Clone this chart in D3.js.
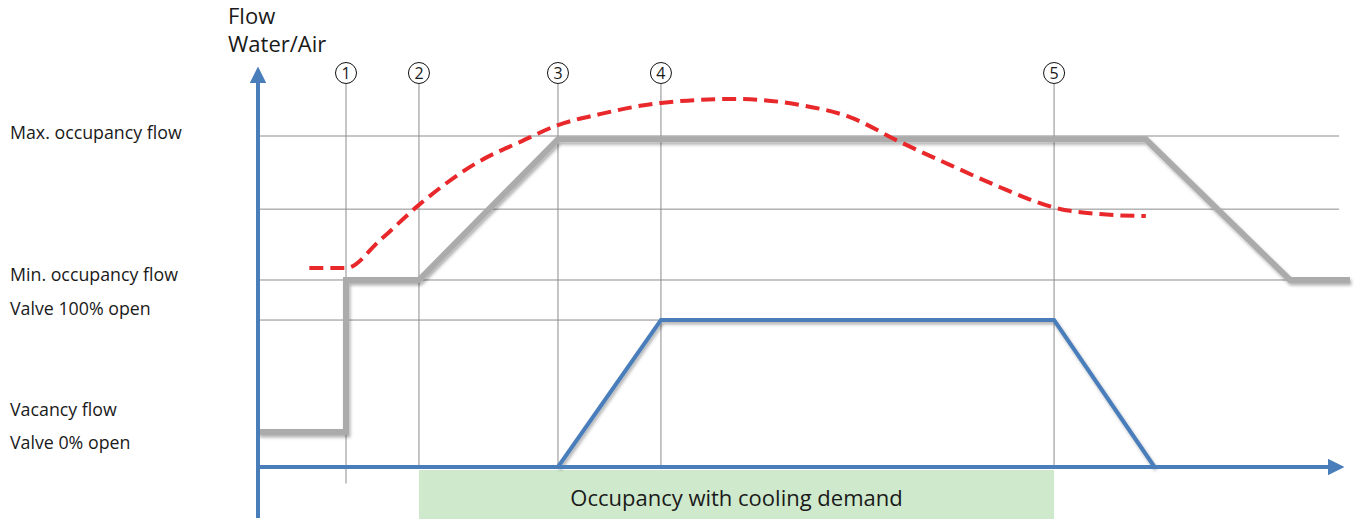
<!DOCTYPE html>
<html lang="en">
<head>
<meta charset="utf-8">
<title>Flow sequence</title>
<script src="https://d3js.org/d3.v7.min.js"></script>
<style>
body { margin: 0; background: #fff; }
text { font-family: "Open Sans", "Noto Sans", sans-serif; fill: #1a1a1a; }
</style>
</head>
<body>
<div id="chart"></div>
<script>
const width = 1357;
const height = 519;

// time axis 0..100, flow axis 0..100 (0 = axis, 100 = max occupancy)
const events = [
  { id: "1", t: 8.06, low: -5 },
  { id: "2", t: 14.74, low: 0 },
  { id: "3", t: 27.47, low: 0 },
  { id: "4", t: 36.9, low: 0 },
  { id: "5", t: 72.9, low: 0 }
];
const levels = [
  { v: 100, end: 99 },
  { v: 77.9, end: 99 },
  { v: 56.5, end: 99 },
  { v: 44.4, end: 72.9 }
];
const levelLabels = [
  { text: "Max. occupancy flow", v: 101 },
  { text: "Min. occupancy flow", v: 58 },
  { text: "Valve 100% open", v: 47.7 },
  { text: "Vacancy flow", v: 17.2 },
  { text: "Valve 0% open", v: 7.2 }
];
const airFlow = [
  [0, 10.6], [8.06, 10.6], [8.06, 56.5], [14.74, 56.5],
  [27.47, 99], [81.3, 99], [94.5, 56.5], [100, 56.5]
];
const valve = [
  [27.47, 0], [36.9, 44.4], [72.9, 44.4], [82.1, 0]
];
const roomTemp = [
  [4.7, 60.1], [8.06, 60.1], [11.2, 68.6], [14.74, 79.2], [20.3, 92.4],
  [24.0, 98.2], [27.47, 103.3], [31.3, 106.6], [36.9, 110], [43.7, 111.2],
  [49.6, 109.4], [54.2, 105.7], [58.8, 98.2], [63.4, 91.2], [67.9, 84.6],
  [70.7, 80.8], [72.9, 78.4], [77.1, 76.4], [81.3, 75.8]
];
const demandBand = { from: 14.74, to: 72.9, label: "Occupancy with cooling demand" };

const x = d3.scaleLinear().domain([0, 100]).range([258, 1350]);
const y = d3.scaleLinear().domain([0, 100]).range([467, 136]);

const svg = d3.select("#chart").append("svg")
  .attr("width", width)
  .attr("height", height);

const defs = svg.append("defs");
defs.append("filter").attr("id", "shadow")
  .attr("x", "-10%").attr("y", "-10%").attr("width", "120%").attr("height", "130%")
  .append("feDropShadow")
  .attr("dx", 1.5).attr("dy", 2.5).attr("stdDeviation", 1.5)
  .attr("flood-color", "#000").attr("flood-opacity", 0.3);

const arrow = defs.append("marker").attr("id", "arrow")
  .attr("viewBox", "0 0 10 10").attr("refX", 2).attr("refY", 5)
  .attr("markerWidth", 4.2).attr("markerHeight", 4.2)
  .attr("markerUnits", "strokeWidth")
  .attr("orient", "auto");
arrow.append("path").attr("d", "M0,0 L10,5 L0,10 Z").attr("fill", "#4a7ebb");

// green band
svg.append("rect")
  .attr("x", x(demandBand.from))
  .attr("y", 470)
  .attr("width", x(demandBand.to) - x(demandBand.from))
  .attr("height", height - 470)
  .attr("fill", "#cfe9cc");
svg.append("text")
  .attr("x", (x(demandBand.from) + x(demandBand.to)) / 2)
  .attr("y", 506)
  .attr("text-anchor", "middle")
  .style("font-size", "22px")
  .text(demandBand.label);

// horizontal level lines
svg.selectAll(".level").data(levels).enter().append("line")
  .attr("x1", x(0)).attr("x2", d => x(d.end))
  .attr("y1", d => y(d.v)).attr("y2", d => y(d.v))
  .attr("stroke", "#8c8c8c").attr("stroke-width", 1);

// event lines with circled numbers
const ev = svg.selectAll(".event").data(events).enter().append("g");
ev.append("line")
  .attr("x1", d => x(d.t)).attr("x2", d => x(d.t))
  .attr("y1", 84).attr("y2", d => y(d.low))
  .attr("stroke", "#8c8c8c").attr("stroke-width", 1);
ev.append("circle")
  .attr("cx", d => x(d.t)).attr("cy", 73).attr("r", 10.5)
  .attr("fill", "#fff").attr("stroke", "#111").attr("stroke-width", 1);
ev.append("text")
  .attr("x", d => x(d.t)).attr("y", 79)
  .attr("text-anchor", "middle")
  .style("font-size", "16px")
  .text(d => d.id);

// left labels
svg.selectAll(".lbl").data(levelLabels).enter().append("text")
  .attr("x", 10).attr("y", d => y(d.v) + 6)
  .style("font-size", "17.8px")
  .text(d => d.text);

svg.append("text").attr("x", 228).attr("y", 24).style("font-size", "22px").text("Flow");
svg.append("text").attr("x", 228).attr("y", 52).style("font-size", "22px").text("Water/Air");

const line = d3.line().x(d => x(d[0])).y(d => y(d[1]));

// air flow (gray)
svg.append("path")
  .attr("d", line(airFlow))
  .attr("fill", "none")
  .attr("stroke", "#ababab")
  .attr("stroke-width", 6)
  .attr("stroke-linejoin", "miter")
  .attr("filter", "url(#shadow)");

// valve (blue)
svg.append("path")
  .attr("d", line(valve))
  .attr("fill", "none")
  .attr("stroke", "#4a7ebb")
  .attr("stroke-width", 4)
  .attr("filter", "url(#shadow)");

// room demand (red dashed)
svg.append("path")
  .attr("d", d3.line().x(d => x(d[0])).y(d => y(d[1])).curve(d3.curveMonotoneX)(roomTemp))
  .attr("fill", "none")
  .attr("stroke", "#e8282b")
  .attr("stroke-width", 4)
  .attr("stroke-dasharray", "14,7");

// axes
svg.append("line")
  .attr("x1", x(0)).attr("x2", x(0))
  .attr("y1", 518).attr("y2", 80)
  .attr("stroke", "#4a7ebb").attr("stroke-width", 4)
  .attr("marker-end", "url(#arrow)");
svg.append("line")
  .attr("x1", x(0) - 2).attr("x2", 1331)
  .attr("y1", y(0)).attr("y2", y(0))
  .attr("stroke", "#4a7ebb").attr("stroke-width", 4)
  .attr("marker-end", "url(#arrow)");
</script>
</body>
</html>
